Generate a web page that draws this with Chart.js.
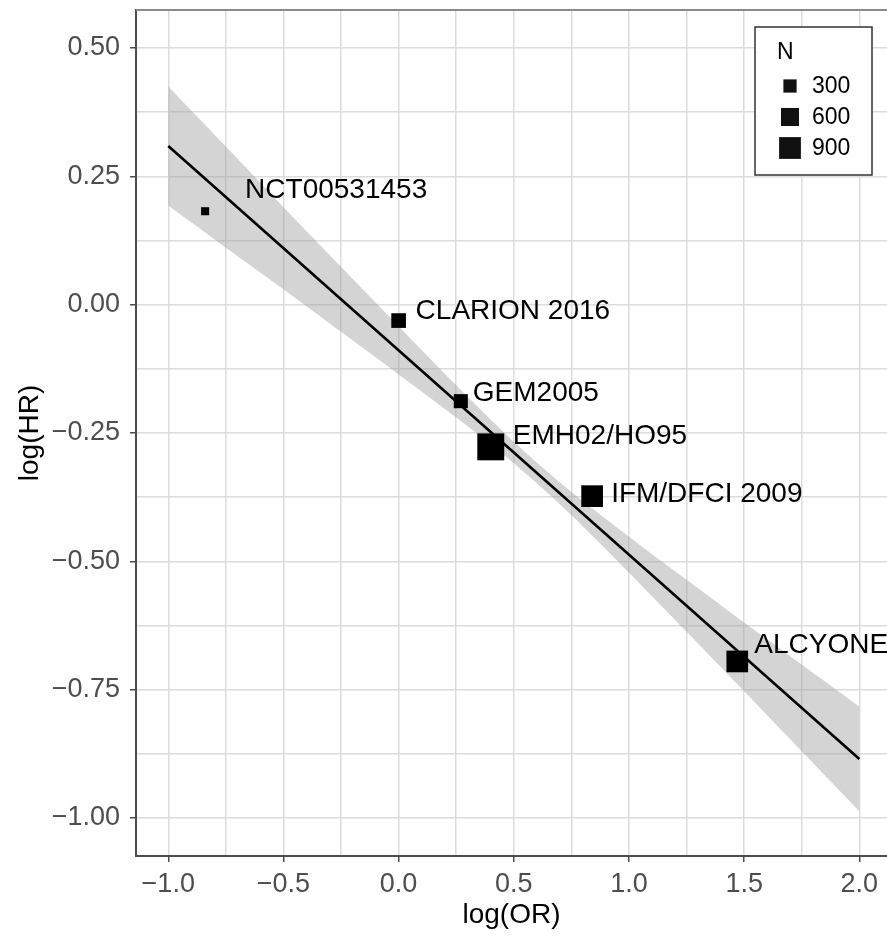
<!DOCTYPE html>
<html><head><meta charset="utf-8">
<script src="https://cdn.jsdelivr.net/npm/chart.js@4.4.1/dist/chart.umd.min.js"></script>
<style>html,body{margin:0;padding:0;background:#fff;overflow:hidden}#wrap{width:887px;height:936px;position:relative}</style>
</head><body><div id="wrap"><canvas id="c" width="887" height="936"></canvas></div>
<script>
// ---- data ----
const trials  = ['NCT00531453','CLARION 2016','GEM2005','EMH02/HO95','IFM/DFCI 2009','ALCYONE'];
const logOR   = [-0.84, 0.00, 0.27, 0.40, 0.84, 1.47];
const logHR   = [0.182, -0.031, -0.188, -0.277, -0.373, -0.695];
const sampleN = [80, 380, 345, 1400, 890, 890];
const fitX = [-1, 2];
const fitY = [0.309, -0.885];
const bandX     = [-1, -0.75, -0.5, -0.25, 0, 0.25, 0.5, 0.75, 1, 1.25, 1.5, 1.75, 2];
const bandUpper = [0.425, 0.308, 0.190, 0.074, -0.042, -0.157, -0.267, -0.365, -0.452, -0.536, -0.619, -0.701, -0.783];
const bandLower = [0.193, 0.111, 0.030, -0.053, -0.136, -0.220, -0.309, -0.410, -0.522, -0.637, -0.753, -0.870, -0.987];
const legendN = [300, 600, 900];
const xTicks = [-1.0, -0.5, 0.0, 0.5, 1.0, 1.5, 2.0];
const yTicks = [-1.00, -0.75, -0.50, -0.25, 0.00, 0.25, 0.50];

// ---- styling ----
const FONT = '"Liberation Sans", Arial, sans-serif';
const labelDx = [40, 17, 12, 22, 19, 17];
const labelDy = [-21, -9, -8, -11, -2, -16];
const side = n => Math.sqrt(25 + 0.5 * n);   // square side in px for size N

function withMinor(t){ const out=[]; for(let i=0;i<t.length;i++){ out.push(t[i]); if(i<t.length-1) out.push((t[i]+t[i+1])/2);} return out; }
const isIn = (arr,v) => arr.some(a => Math.abs(a - v) < 1e-9);
const fmt = (v,d) => (v < 0 ? '\u2212' : '') + Math.abs(v).toFixed(d);

const labelPlugin = {id:'ptlabels', afterDatasetsDraw(chart){
  const meta = chart.getDatasetMeta(3), c = chart.ctx;
  c.save(); c.font = '28px ' + FONT; c.fillStyle = '#000'; c.textBaseline = 'middle'; c.textAlign = 'left';
  meta.data.forEach((pt,i) => c.fillText(trials[i], pt.x + labelDx[i], pt.y + labelDy[i]));
  c.restore();
}};
const framePlugin = {id:'frame', afterDraw(chart){
  const a = chart.chartArea, c = chart.ctx;
  c.save(); c.strokeStyle = '#8a8a8a'; c.lineWidth = 2;
  c.beginPath(); c.moveTo(a.left, a.top); c.lineTo(a.right, a.top); c.stroke(); c.restore();
}};
const legendPlugin = {id:'nlegend', afterDraw(chart){
  const c = chart.ctx;
  c.save();
  c.fillStyle = '#fff'; c.fillRect(755, 27, 117, 148);
  c.strokeStyle = '#333'; c.lineWidth = 1.5; c.strokeRect(755, 27, 117, 148);
  c.fillStyle = '#000'; c.font = '23px ' + FONT; c.textBaseline = 'middle'; c.textAlign = 'left';
  c.fillText('N', 777, 53);
  const ys = [86, 117, 148];
  legendN.forEach((n,i) => {
    const s = side(n);
    c.fillStyle = '#111'; c.fillRect(790 - s/2, ys[i] - s/2, s, s);
    c.fillStyle = '#000'; c.fillText(String(n), 812, ys[i] + 1);
  });
  c.restore();
}};

const gridCommon = (majors) => ({
  color: '#dcdcdc', lineWidth: 1.5, tickLength: 6, tickWidth: 1.5,
  tickColor: ctx => (ctx.tick && isIn(majors, ctx.tick.value)) ? '#4d4d4d' : 'rgba(0,0,0,0)'
});
const noPad = s => { s.paddingTop = 0; s.paddingBottom = 0; s.paddingLeft = 0; s.paddingRight = 0; };

new Chart(document.getElementById('c'), {
  type: 'scatter',
  data: { datasets: [
    { data: bandX.map((x,i)=>({x, y: bandUpper[i]})), showLine: true, borderColor: 'rgba(0,0,0,0)', borderWidth: 0, pointRadius: 0, fill: false, tension: 0.3, order: 3 },
    { data: bandX.map((x,i)=>({x, y: bandLower[i]})), showLine: true, borderColor: 'rgba(0,0,0,0)', borderWidth: 0, pointRadius: 0, fill: '-1', backgroundColor: 'rgba(153,153,153,0.42)', tension: 0.3, order: 3 },
    { data: fitX.map((x,i)=>({x, y: fitY[i]})), showLine: true, borderColor: '#000', borderWidth: 2.6, pointRadius: 0, fill: false, order: 2 },
    { data: logOR.map((x,i)=>({x, y: logHR[i]})), pointStyle: 'rect', backgroundColor: '#000', borderWidth: 0,
      pointRadius: ctx => side(sampleN[ctx.dataIndex]) / Math.SQRT2, pointHoverRadius: ctx => side(sampleN[ctx.dataIndex]) / Math.SQRT2, order: 1 }
  ]},
  options: {
    responsive: false, animation: false, events: [],
    layout: { autoPadding: false, padding: { top: 10, right: 0, left: 0, bottom: 0 } },
    plugins: { legend: { display: false }, tooltip: { enabled: false } },
    scales: {
      x: { type: 'linear', min: -1.14, max: 2.12,
        afterBuildTicks: s => { s.ticks = withMinor(xTicks).map(v => ({value: v})); },
        afterFit: s => { s.height = 80; noPad(s); },
        grid: gridCommon(xTicks),
        border: { color: '#4d4d4d', width: 2 },
        ticks: { autoSkip: false, maxRotation: 0, padding: 6, color: '#4d4d4d', font: { family: FONT, size: 27 },
          callback: v => isIn(xTicks, v) ? fmt(v, 1) : '' },
        title: { display: true, text: 'log(OR)', color: '#000', font: { family: FONT, size: 28 }, padding: { top: 0, bottom: 4 } }
      },
      y: { type: 'linear', min: -1.074, max: 0.574,
        afterBuildTicks: s => { s.ticks = withMinor(yTicks).map(v => ({value: v})); },
        afterFit: s => { s.width = 136; noPad(s); },
        grid: gridCommon(yTicks),
        border: { color: '#4d4d4d', width: 2 },
        ticks: { autoSkip: false, padding: 10, color: '#4d4d4d', font: { family: FONT, size: 27 },
          callback: v => isIn(yTicks, v) ? fmt(v, 2) : '' },
        title: { display: true, text: 'log(HR)', color: '#000', font: { family: FONT, size: 28 }, padding: { top: 13, bottom: 0 } }
      }
    }
  },
  plugins: [labelPlugin, framePlugin, legendPlugin]
});
</script></body></html>
